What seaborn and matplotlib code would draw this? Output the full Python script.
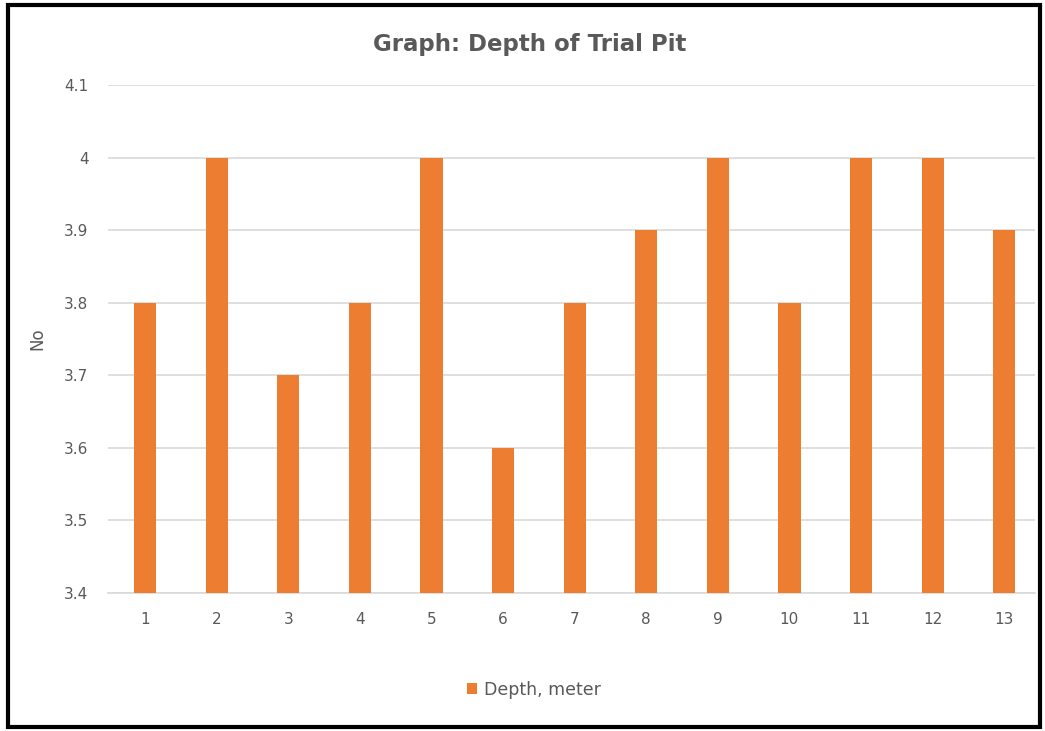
import matplotlib
matplotlib.use("Agg")
import matplotlib.pyplot as plt
import seaborn as sns
import pandas as pd
from matplotlib.patches import Rectangle

pits = ["1", "2", "3", "4", "5", "6", "7", "8", "9", "10", "11", "12", "13"]
depth = [3.8, 4.0, 3.7, 3.8, 4.0, 3.6, 3.8, 3.9, 4.0, 3.8, 4.0, 4.0, 3.9]
y_ticks = [3.4, 3.5, 3.6, 3.7, 3.8, 3.9, 4.0, 4.1]
y_tick_labels = ["3.4", "3.5", "3.6", "3.7", "3.8", "3.9", "4", "4.1"]

sns.set_theme(style="white")
plt.rcParams['font.family'] = ['DejaVu Sans']

df = pd.DataFrame({"Pit": pits, "Depth": depth})

W, H = 1045, 731
fig = plt.figure(figsize=(W / 100, H / 100), dpi=100)
ax = fig.add_axes([108 / W, (H - 593) / H, (1035 - 108) / W, (593 - 85) / H])

sns.barplot(data=df, x="Pit", y="Depth", color="#ED7D31", width=0.31,
            saturation=1, ax=ax, label="Depth, meter", zorder=3, linewidth=0)

ax.set_ylim(3.4, 4.1)
ax.set_xlim(-0.517, 12.43)
ax.set_yticks(y_ticks)
ax.set_yticklabels(y_tick_labels)
ax.yaxis.grid(True, color="#D9D9D9", linewidth=1.2, zorder=0)
ax.xaxis.grid(False)
for s in ["top", "right", "left"]:
    ax.spines[s].set_visible(False)
ax.spines["bottom"].set_color("#D9D9D9")
ax.spines["bottom"].set_linewidth(1.2)
ax.tick_params(axis="both", length=0, labelsize=11, labelcolor="#595959")
ax.tick_params(axis="x", pad=14)
ax.tick_params(axis="y", pad=14)
ax.set_xlabel("")
ax.set_ylabel("No", fontsize=12, color="#595959", labelpad=12.5)

fig.text(530 / W, 1 - 45 / H, "Graph: Depth of Trial Pit", ha="center", va="center",
         fontsize=16.5, fontweight="bold", color="#595959")

leg = ax.legend(loc="center", bbox_to_anchor=(534 / W, 1 - 690 / H),
                bbox_transform=fig.transFigure, frameon=False, fontsize=12.5,
                handlelength=0.6, handleheight=0.6, handletextpad=0.4)
for t in leg.get_texts():
    t.set_color("#595959")

fig.patches.append(Rectangle((8 / W, 1 - 727 / H), (1040 - 8) / W, (727 - 5) / H,
                             transform=fig.transFigure, fill=False,
                             edgecolor="black", linewidth=3))

fig.savefig("out.png", dpi=100, facecolor="white")
